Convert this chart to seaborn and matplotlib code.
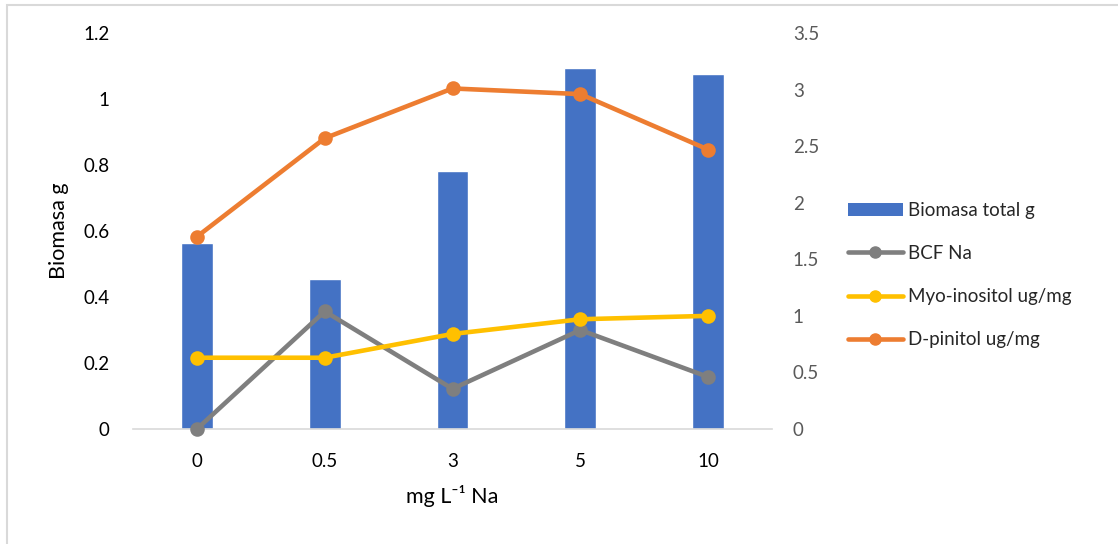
import matplotlib
matplotlib.use("Agg")
import matplotlib.pyplot as plt
import seaborn as sns
import pandas as pd
from matplotlib.lines import Line2D
from matplotlib.patches import Patch, Rectangle
from matplotlib.ticker import FuncFormatter, MultipleLocator

# Sodium concentrations (mg L-1 Na)
conc = ["0", "0.5", "3", "5", "10"]
# Total biomass (g), left axis
biomasa = [0.564, 0.455, 0.782, 1.094, 1.076]
# Secondary-axis series
bcf_na = [0.0, 1.04, 0.355, 0.875, 0.46]
myo_inositol = [0.63, 0.63, 0.84, 0.97, 1.0]
d_pinitol = [1.70, 2.57, 3.01, 2.96, 2.47]

labels = ["Biomasa total g", "BCF Na", "Myo-inositol ug/mg", "D-pinitol ug/mg"]
blue, gray, yellow, orange = "#4472C4", "#7F7F7F", "#FFC000", "#ED7D31"

sns.set_theme(style="white")
plt.rcParams["font.family"] = ["Lato", "DejaVu Sans"]

df = pd.DataFrame({"conc": conc, "biomasa": biomasa, "bcf": bcf_na,
                   "myo": myo_inositol, "pinitol": d_pinitol})

fig = plt.figure(figsize=(11.18, 5.44), dpi=100)
ax = fig.add_axes([0.119, 0.2114, 0.5715, 0.7279])

sns.barplot(data=df, x="conc", y="biomasa", order=conc, color=blue,
            width=0.25, saturation=1, ax=ax, zorder=2)
ax.set_ylim(0, 1.2)
ax.yaxis.set_major_locator(MultipleLocator(0.2))
ax.yaxis.set_major_formatter(FuncFormatter(lambda v, p: f"{v:g}"))

ax2 = ax.twinx()
for col, c in [("bcf", gray), ("myo", yellow), ("pinitol", orange)]:
    sns.pointplot(data=df, x="conc", y=col, order=conc, color=c, ax=ax2,
                  markers="o", markersize=8, linewidth=3.3, errorbar=None)
for ln in ax2.lines:
    ln.set_clip_on(False)
ax2.set_ylim(0, 3.5)
ax2.yaxis.set_major_locator(MultipleLocator(0.5))
ax2.yaxis.set_major_formatter(FuncFormatter(lambda v, p: f"{v:g}"))
ax.set_xlim(-0.5, 4.5)

for a in (ax, ax2):
    for s in a.spines.values():
        s.set_visible(False)
    a.tick_params(length=0)
ax.spines["bottom"].set_visible(True)
ax.spines["bottom"].set_color("#D9D9D9")
ax.spines["bottom"].set_linewidth(1.2)

ax.tick_params(axis="y", labelsize=13.5, labelcolor="#000000", pad=17)
ax.tick_params(axis="x", labelsize=13.5, labelcolor="#000000", pad=17)
ax2.tick_params(axis="y", labelsize=13.5, labelcolor="#595959", pad=15)

ax.set_xlabel("mg L⁻¹ Na", fontsize=15.5, color="#000000", labelpad=11)
ax.set_ylabel("Biomasa g", fontsize=15.5, color="#000000", labelpad=10)
ax2.set_ylabel("")

handles = [Patch(facecolor=blue, edgecolor="none"),
           Line2D([], [], color=gray, lw=3.3, marker="o", markersize=8),
           Line2D([], [], color=yellow, lw=3.3, marker="o", markersize=8),
           Line2D([], [], color=orange, lw=3.3, marker="o", markersize=8)]
fig.legend(handles, labels, loc="upper left", bbox_to_anchor=(0.752, 0.643),
           frameon=False, fontsize=13.5, handlelength=2.9, handletextpad=0.3,
           labelspacing=1.4, borderaxespad=0)

fig.patches.append(Rectangle((0.006, -0.01), 1.0, 1.0 - 0.009 + 0.01,
                             transform=fig.transFigure, fill=False,
                             edgecolor="#D9D9D9", linewidth=1.5))

fig.savefig("out.png", dpi=100)
